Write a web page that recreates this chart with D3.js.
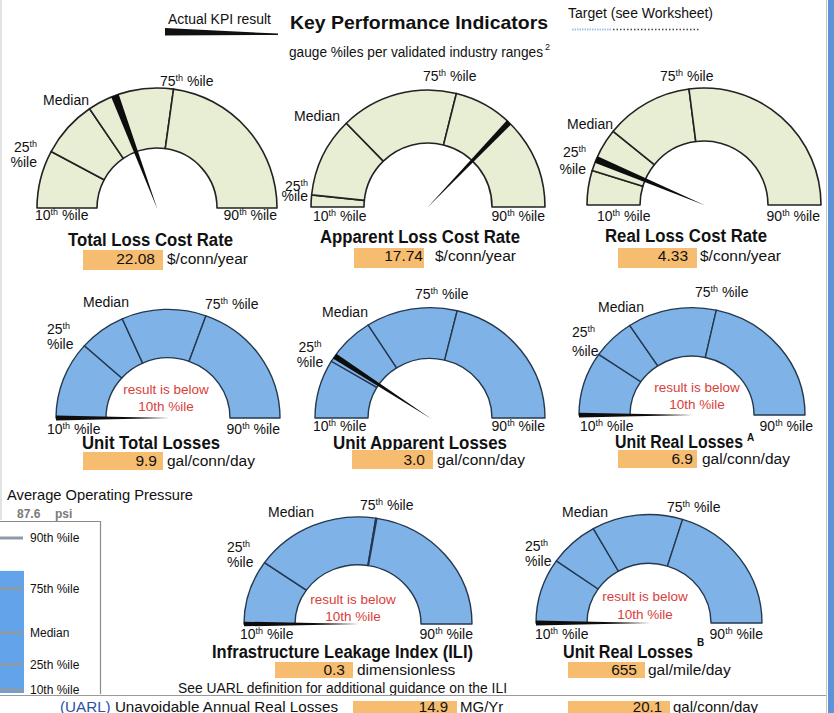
<!DOCTYPE html>
<html><head><meta charset="utf-8">
<script src="https://cdn.jsdelivr.net/npm/d3@7"></script>
<style>body{margin:0;background:#fff}svg{display:block}text{font-family:"Liberation Sans",Arial,Helvetica,sans-serif}</style>
</head><body><svg id="c" width="834" height="713"></svg>
<script>
// ---------------- data ----------------
const gaugeTitles = ["Total Loss Cost Rate","Apparent Loss Cost Rate","Real Loss Cost Rate","Unit Total Losses","Unit Apparent Losses","Unit Real Losses","Infrastructure Leakage Index (ILI)","Unit Real Losses"];
const titleSup = ["","","","","","A","","B"];
const kpiValues = ["22.08","17.74","4.33","9.9","3.0","6.9","0.3","655"];
const kpiUnits = ["$/conn/year","$/conn/year","$/conn/year","gal/conn/day","gal/conn/day","gal/conn/day","dimensionless","gal/mile/day"];
// gauge positions (0 = 10th %ile, 100 = 90th %ile)
const p25 = [15.6, 3.3, 9.5, 23.2, 17.2, 19.1, 19.4, 19.4];
const p50 = [31.0, 25.4, 21.7, 36.6, 31.9, 31.4, 55.0, 33.6];
const p75 = [54.4, 57.8, 45.9, 61.0, 57.6, 56.9, 55.3, 59.6];
const needlePos = [38.6, 74.3, 12.7, 0, 18.9, 0, 0, 0];
const belowTenth = [false, false, false, true, false, true, true, true];
const pressureTicks = ["10th %ile","25th %ile","Median","75th %ile","90th %ile"];
const pressurePct = [50, 58, 68, 82, 98];
const pressureValue = 87.6;
const uarlValues = ["14.9","20.1"];
const uarlUnits = ["MG/Yr","gal/conn/day"];

// ---------------- layout ----------------
const layout = [
 {cx:157,cy:208,R:120,r:60,ky:1,th:0,nw:8,l10:[35,220],l90:[277,220],l75:[160,86,"start"],l50:[89,105,"end"],l25:[37,152,167,"end"],title:[150.5,246,165],box:[83,250,80,20],val:[155,264],unit:[167,264]},
 {cx:428,cy:207,R:117,r:64,ky:1,th:0,nw:6,l10:[313,221],l90:[545,221],l75:[423,81,"start"],l50:[340,121,"end"],l25:[308,191,201,"end"],title:[420,243,200],box:[354,248,70,20],val:[423,261],unit:[435,261]},
 {cx:704,cy:205,R:117,r:64,ky:1,th:0,nw:7,l10:[597,221],l90:[820,221],l75:[660,81,"start"],l50:[613,129,"end"],l25:[586,157,174,"end"],title:[686,242,162],box:[618,248,79,20],val:[688,261],unit:[700,261]},
 {cx:168,cy:418,R:112,r:62,ky:0.97,th:1,nw:5,l10:[47,434],l90:[280,434],l75:[205,309,"start"],l50:[83,307,"start"],l25:[47,334,349,"start"],title:[151,449,138],box:[83,452,80,18],val:[157,466],unit:[167,466],red:[166,394,411]},
 {cx:430,cy:418,R:115,r:62,ky:0.96,th:1,nw:6,l10:[313,431],l90:[545,431],l75:[415,299,"start"],l50:[322,317,"start"],l25:[310,352,367,"middle"],title:[420,449,174],box:[352,450,81,19],val:[425,465],unit:[437,465]},
 {cx:692,cy:415,R:113,r:62,ky:0.95,th:1,nw:5,l10:[580,431],l90:[813,431],l75:[695,297,"start"],l50:[598,312,"start"],l25:[572,337,356,"start"],title:[679,448,128],sup:[747,441],box:[618,450,79,18],val:[693,464],unit:[702,464],red:[697,392,409]},
 {cx:358,cy:624,R:114,r:63,ky:0.94,th:1,nw:5,l10:[240,639],l90:[473,639],l75:[360,510,"start"],l50:[268,517,"start"],l25:[227,552,567,"start"],title:[342.5,658,261],box:[275,662,78,16],val:[345,675],unit:[357,675],red:[353,604,621]},
 {cx:649,cy:623,R:113,r:62,ky:0.96,th:1,nw:5,l10:[535,639],l90:[763,639],l75:[667,512,"start"],l50:[562,517,"start"],l25:[525,551,566,"start"],title:[628,658,130],sup:[697,646],box:[568,662,77,16],val:[637,675],unit:[648,675],red:[645,601,619]}
];
const themes = [
 {fill:"#e7eed3", stroke:"#222", sw:1.6},
 {fill:"#7fb3e7", stroke:"#24384f", sw:1.4}
];
const ORANGE = "#f6bd70";

const svg = d3.select("#c");
svg.append("rect").attr("width",834).attr("height",713).attr("fill","#fff");

// page borders
svg.append("line").attr("x1",826.5).attr("x2",826.5).attr("y1",0).attr("y2",713).attr("stroke","#c9c9c9");
svg.append("rect").attr("x",828).attr("y",0).attr("width",6).attr("height",713).attr("fill","#5e93d8");
svg.append("line").attr("x1",1).attr("x2",1).attr("y1",0).attr("y2",520).attr("stroke","#e2e2e2").attr("stroke-width",2);

// ---------------- header ----------------
svg.append("text").attr("x",168).attr("y",24).attr("font-size",14).attr("fill","#111")
  .attr("textLength",103).attr("lengthAdjust","spacingAndGlyphs").text("Actual KPI result");
svg.append("path").attr("d","M165,28 L278,33.6 L278,35 L165,35.5 Z").attr("fill","#111");
svg.append("text").attr("x",290).attr("y",29).attr("font-size",19).attr("font-weight","bold").attr("fill","#111")
  .attr("textLength",258).attr("lengthAdjust","spacingAndGlyphs").text("Key Performance Indicators");
svg.append("text").attr("x",568).attr("y",18).attr("font-size",14).attr("fill","#111")
  .attr("textLength",145).attr("lengthAdjust","spacingAndGlyphs").text("Target (see Worksheet)");
svg.append("line").attr("x1",572).attr("x2",612).attr("y1",29.5).attr("y2",29.5).attr("stroke","#9fc4ea").attr("stroke-width",2).attr("stroke-dasharray","1.5,1");
svg.append("line").attr("x1",613).attr("x2",700).attr("y1",29.5).attr("y2",29.5).attr("stroke","#444").attr("stroke-width",1.6).attr("stroke-dasharray","1.5,2");
svg.append("text").attr("x",289).attr("y",57).attr("font-size",14).attr("fill","#111")
  .attr("textLength",254).attr("lengthAdjust","spacingAndGlyphs").text("gauge %iles per validated industry ranges");
svg.append("text").attr("x",545).attr("y",50).attr("font-size",9).attr("fill","#111").text("2");

// ---------------- gauges ----------------
const ang = d3.scaleLinear().domain([0,100]).range([-Math.PI/2, Math.PI/2]).clamp(true);

function pctLabel(x, y, anchor, num) {
  const t = svg.append("text").attr("x",x).attr("y",y).attr("text-anchor",anchor).attr("font-size",14).attr("fill","#111");
  t.append("tspan").text(num);
  t.append("tspan").attr("font-size",9).attr("dy",-5).text("th");
  t.append("tspan").attr("dy",5).text(" %ile");
}

gaugeTitles.forEach((title, i) => {
  const L = layout[i], T = themes[L.th];
  const g = svg.append("g").attr("transform", `translate(${L.cx},${L.cy}) scale(1,${L.ky})`);
  const bounds = [0, p25[i], p50[i], p75[i], 100];
  const arc = d3.arc().innerRadius(L.r).outerRadius(L.R);
  d3.range(4).forEach(k => {
    g.append("path")
      .attr("d", arc({startAngle: ang(bounds[k]), endAngle: ang(bounds[k+1])}))
      .attr("fill", T.fill).attr("stroke", T.stroke).attr("stroke-width", T.sw).attr("stroke-linejoin","round");
  });
  // needle (wedge from outer radius to centre)
  const a = ang(needlePos[i]);
  const ux = Math.sin(a), uy = -Math.cos(a), px = Math.cos(a), py = Math.sin(a);
  const hw = L.nw/2;
  const pts = [[L.R*ux + hw*px, L.R*uy + hw*py],[L.R*ux - hw*px, L.R*uy - hw*py],[-1.5*ux, -1.5*uy]];
  g.append("path").attr("d", d3.line()(pts) + "Z").attr("fill","#0d0d0d");

  // percentile labels
  pctLabel(L.l10[0], L.l10[1], "start", "10");
  pctLabel(L.l90[0], L.l90[1], "end", "90");
  pctLabel(L.l75[0], L.l75[1], L.l75[2], "75");
  svg.append("text").attr("x",L.l50[0]).attr("y",L.l50[1]).attr("text-anchor",L.l50[2]).attr("font-size",14).attr("fill","#111").text("Median");
  const t25 = svg.append("text").attr("x",L.l25[0]).attr("y",L.l25[1]).attr("text-anchor",L.l25[3]).attr("font-size",14).attr("fill","#111");
  t25.append("tspan").text("25");
  t25.append("tspan").attr("font-size",9).attr("dy",-5).text("th");
  svg.append("text").attr("x",L.l25[0]).attr("y",L.l25[2]).attr("text-anchor",L.l25[3]).attr("font-size",14).attr("fill","#111").text("%ile");

  if (belowTenth[i] && L.red) {
    svg.append("text").attr("x",L.red[0]).attr("y",L.red[1]).attr("text-anchor","middle").attr("font-size",13.5).attr("fill","#d8403a").text("result is below");
    svg.append("text").attr("x",L.red[0]).attr("y",L.red[2]).attr("text-anchor","middle").attr("font-size",13.5).attr("fill","#d8403a").text("10th %ile");
  }

  // title
  svg.append("text").attr("x",L.title[0]).attr("y",L.title[1]).attr("text-anchor","middle")
    .attr("font-size",17.5).attr("font-weight","bold").attr("fill","#111")
    .attr("textLength",L.title[2]).attr("lengthAdjust","spacingAndGlyphs").text(title);
  if (titleSup[i]) {
    svg.append("text").attr("x",L.sup[0]).attr("y",L.sup[1]).attr("font-size",10).attr("font-weight","bold").attr("fill","#111").text(titleSup[i]);
  }
  // value box
  svg.append("rect").attr("x",L.box[0]).attr("y",L.box[1]).attr("width",L.box[2]).attr("height",L.box[3]).attr("fill",ORANGE);
  svg.append("text").attr("x",L.val[0]).attr("y",L.val[1]).attr("text-anchor","end").attr("font-size",15.5).attr("fill","#111").text(kpiValues[i]);
  svg.append("text").attr("x",L.unit[0]).attr("y",L.unit[1]).attr("font-size",15.5).attr("fill","#111").text(kpiUnits[i]);
});

svg.append("text").attr("x",178).attr("y",693).attr("font-size",14).attr("fill","#111")
  .attr("textLength",329).attr("lengthAdjust","spacingAndGlyphs").text("See UARL definition for additional guidance on the ILI");

// ---------------- pressure panel ----------------
svg.append("text").attr("x",7).attr("y",500).attr("font-size",14.5).attr("fill","#111")
  .attr("textLength",186).attr("lengthAdjust","spacingAndGlyphs").text("Average Operating Pressure");
svg.append("text").attr("x",17).attr("y",518).attr("font-size",12).attr("font-weight","bold").attr("fill","#7a7a7a").text(pressureValue.toFixed(1));
svg.append("text").attr("x",55).attr("y",518).attr("font-size",12).attr("font-weight","bold").attr("fill","#7a7a7a").text("psi");
const py = d3.scaleLinear().domain([49, 98]).range([693, 538]);
svg.append("path").attr("d","M0,521.5 H100.5 V694").attr("fill","none").attr("stroke","#8a8a8a").attr("stroke-width",1.2);
svg.append("rect").attr("x",0).attr("y",py(pressureValue)).attr("width",24).attr("height",py(49)-py(pressureValue)).attr("fill","#62a3ea");
pressurePct.forEach((v, k) => {
  svg.append("line").attr("x1",0).attr("x2",23).attr("y1",py(v)).attr("y2",py(v)).attr("stroke","#8e9aa6").attr("stroke-width",3);
  svg.append("text").attr("x",30).attr("y",py(v)+4).attr("font-size",12).attr("fill","#111").text(pressureTicks[k]);
});

// ---------------- UARL row ----------------
svg.append("line").attr("x1",0).attr("x2",826).attr("y1",695.5).attr("y2",695.5).attr("stroke","#9a9a9a").attr("stroke-width",1.2);
const ut = svg.append("text").attr("x",60).attr("y",712).attr("font-size",15).attr("fill","#111")
  .attr("textLength",278).attr("lengthAdjust","spacingAndGlyphs");
ut.append("tspan").attr("fill","#2b4fa3").text("(UARL)");
ut.append("tspan").text(" Unavoidable Annual Real Losses");
svg.append("rect").attr("x",353).attr("y",701).attr("width",104).attr("height",12).attr("fill",ORANGE);
svg.append("rect").attr("x",568).attr("y",701).attr("width",102).attr("height",12).attr("fill",ORANGE);
svg.append("text").attr("x",448).attr("y",712).attr("text-anchor","end").attr("font-size",15).attr("fill","#111").text(uarlValues[0]);
svg.append("text").attr("x",460).attr("y",712).attr("font-size",15).attr("fill","#111").text(uarlUnits[0]);
svg.append("text").attr("x",662).attr("y",712).attr("text-anchor","end").attr("font-size",15).attr("fill","#111").text(uarlValues[1]);
svg.append("text").attr("x",673).attr("y",712).attr("font-size",15).attr("fill","#111").text(uarlUnits[1]);
</script></body></html>
